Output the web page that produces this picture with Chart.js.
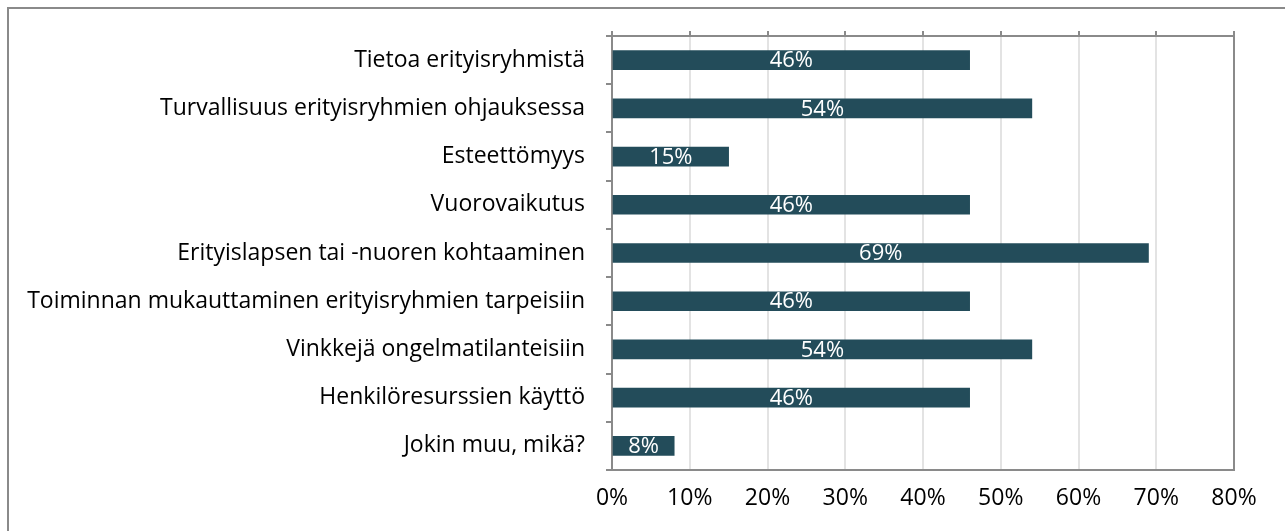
<!doctype html>
<html>
<head>
  <meta charset="utf-8">
  <title>Koulutustarpeet</title>
  <script src="https://cdn.jsdelivr.net/npm/chart.js@4.4.0/dist/chart.umd.min.js"></script>
  <style>
    html, body { margin: 0; padding: 0; background: #fff; }
    .chart { position: relative; width: 1285px; height: 531px; }
  </style>
</head>
<body>
  <div class="chart">
    <canvas id="myChart"></canvas>
  </div>
  <script>
    var categories = [
      'Tietoa erityisryhmistä',
      'Turvallisuus erityisryhmien ohjauksessa',
      'Esteettömyys',
      'Vuorovaikutus',
      'Erityislapsen tai -nuoren kohtaaminen',
      'Toiminnan mukauttaminen erityisryhmien tarpeisiin',
      'Vinkkejä ongelmatilanteisiin',
      'Henkilöresurssien käyttö',
      'Jokin muu, mikä?'
    ];
    var percentages = [46, 54, 15, 46, 69, 46, 54, 46, 8];
    var tickValues = [0, 10, 20, 30, 40, 50, 60, 70, 80];

    var barColor = '#234c5a';
    var frameColor = '#8a8a8a';
    var gridColor = '#e3e3e3';
    var fontFamily = '"Open Sans", sans-serif';
    var fontSize = 23;

    // white percent labels in the middle of each bar
    var valueLabels = {
      id: 'valueLabels',
      afterDatasetsDraw: function(chart) {
        var ctx = chart.ctx;
        var meta = chart.getDatasetMeta(0);
        ctx.save();
        ctx.fillStyle = '#ffffff';
        ctx.font = '22px ' + fontFamily;
        ctx.textAlign = 'center';
        ctx.textBaseline = 'middle';
        meta.data.forEach(function(bar, i) {
          ctx.fillText(percentages[i] + '%', (bar.base + bar.x) / 2, bar.y + 1);
        });
        ctx.restore();
      }
    };

    // outer frame of the picture (left and top only, the rest is cropped)
    var outerFrame = {
      id: 'outerFrame',
      beforeDraw: function(chart) {
        var ctx = chart.ctx;
        ctx.save();
        ctx.strokeStyle = frameColor;
        ctx.lineWidth = 2;
        ctx.beginPath();
        ctx.moveTo(8, chart.height);
        ctx.lineTo(8, 8);
        ctx.lineTo(chart.width, 8);
        ctx.stroke();
        ctx.restore();
      }
    };

    var config = {
      type: 'bar',
      data: {
        labels: categories,
        datasets: [{
          data: percentages,
          backgroundColor: barColor,
          borderWidth: 0,
          barThickness: 19
        }]
      },
      options: {
        indexAxis: 'y',
        responsive: true,
        maintainAspectRatio: false,
        animation: false,
        layout: {
          padding: { left: 0, right: 51, top: 0, bottom: 0 }
        },
        scales: {
          x: {
            position: 'bottom',
            min: 0,
            max: 80,
            afterBuildTicks: function(scale) {
              scale.ticks = tickValues.map(function(v) { return { value: v }; });
            },
            afterFit: function(scale) { scale.height = 61; },
            grid: {
              drawTicks: false,
              lineWidth: 2,
              color: function(c) {
                return c.tick && c.tick.value === 80 ? frameColor : gridColor;
              }
            },
            border: { color: frameColor, width: 2 },
            ticks: {
              padding: 15,
              color: '#000',
              font: { family: fontFamily, size: fontSize },
              callback: function(v) { return v + '%'; }
            }
          },
          xTop: {
            position: 'top',
            axis: 'x',
            min: 0,
            max: 80,
            afterBuildTicks: function(scale) {
              scale.ticks = tickValues.map(function(v) { return { value: v }; });
            },
            afterFit: function(scale) { scale.height = 36; },
            grid: {
              drawOnChartArea: false,
              drawTicks: true,
              tickLength: 5,
              lineWidth: 2,
              color: frameColor
            },
            border: { color: frameColor, width: 2 },
            ticks: { display: false }
          },
          y: {
            afterFit: function(scale) { scale.width = 612; },
            grid: {
              drawOnChartArea: false,
              drawTicks: true,
              tickLength: 6,
              lineWidth: 2,
              color: frameColor
            },
            border: { color: frameColor, width: 2 },
            ticks: {
              padding: 21,
              color: '#000',
              font: { family: fontFamily, size: fontSize }
            }
          }
        },
        plugins: {
          legend: { display: false },
          tooltip: { enabled: false }
        }
      },
      plugins: [valueLabels, outerFrame]
    };

    var ctx = document.getElementById('myChart').getContext('2d');
    window.myChart = new Chart(ctx, config);
  </script>
</body>
</html>
